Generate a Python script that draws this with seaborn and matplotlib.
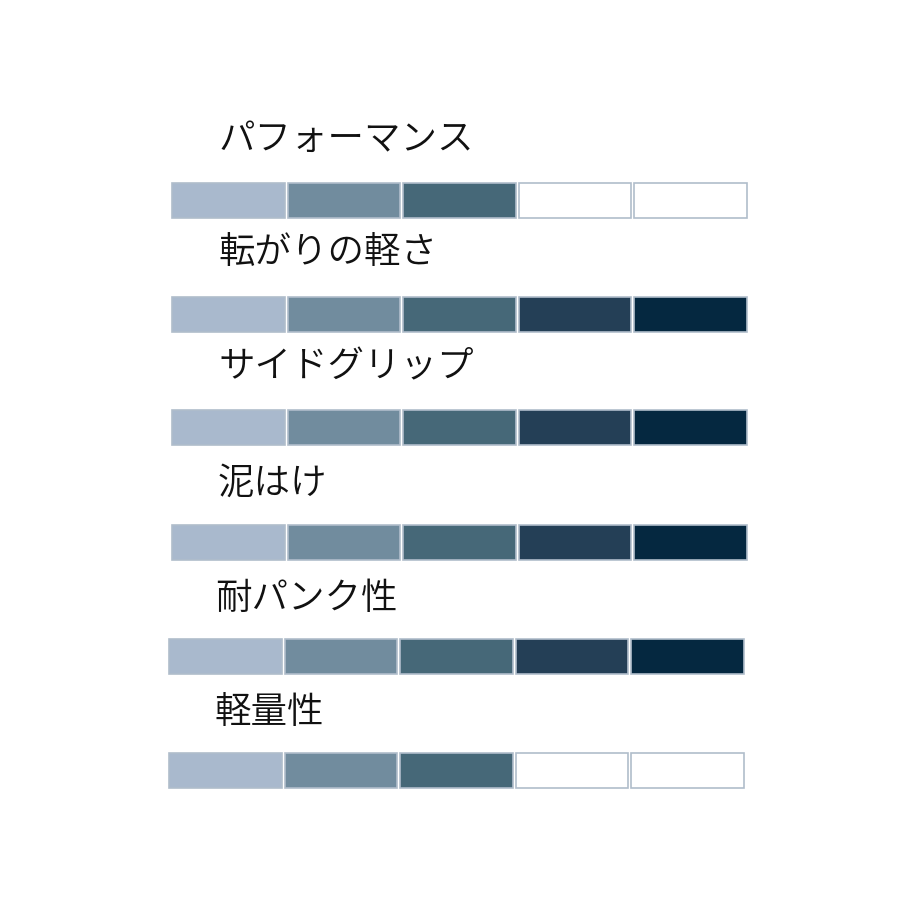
import matplotlib
matplotlib.use("Agg")
import matplotlib.pyplot as plt
import seaborn as sns
import pandas as pd

sns.set_theme(style="white")
plt.rcParams['font.family'] = ['Noto Sans CJK JP', 'DejaVu Sans']

# Data
categories = ["パフォーマンス", "転がりの軽さ", "サイドグリップ", "泥はけ", "耐パンク性", "軽量性"]
ratings = [3, 5, 5, 5, 5, 3]
max_rating = 5
level_colors = ["#a9b9cd", "#718c9e", "#466878", "#243f56", "#052840"]
empty_color = "#ffffff"
edge_color = "#b0bdcb"

W = H = 920
fig = plt.figure(figsize=(W / 100, H / 100), dpi=100)
fig.patch.set_facecolor("white")

# layout in pixels (top of bar, left of bar, label x, label center y)
bar_tops = [184, 298, 411, 526, 640, 754]
bar_lefts = [171, 171, 171, 171, 168, 168]
label_xs = [218, 218, 218, 218, 215, 215]
label_ys = [139, 253, 367, 483, 598, 713]
bar_w = 577
bar_h = 35

ax_text = fig.add_axes([0, 0, 1, 1])
ax_text.set_xlim(0, W)
ax_text.set_ylim(H, 0)
ax_text.axis("off")

for i, (cat, r) in enumerate(zip(categories, ratings)):
    left = bar_lefts[i] / W
    bottom = 1 - (bar_tops[i] + bar_h) / H
    ax = fig.add_axes([left, bottom, bar_w / W, bar_h / H])
    seg = [str(k) for k in range(max_rating)]
    df = pd.DataFrame({"seg": seg, "val": [1] * max_rating})
    pal = {str(k): (level_colors[k] if k < r else empty_color) for k in range(max_rating)}
    sns.barplot(data=df, x="seg", y="val", hue="seg", palette=pal, width=0.975,
                edgecolor=edge_color, linewidth=1.2, legend=False, ax=ax,
                saturation=1)
    for p in ax.patches:
        p.set_clip_on(False)
    ax.set_xlim(-0.5, max_rating - 0.5)
    ax.set_ylim(0, 1)
    ax.axis("off")
    ax_text.text(label_xs[i], label_ys[i], cat, fontsize=26.3, color="#111111",
                 fontweight=350, ha="left", va="center")

fig.savefig("out.png", dpi=100, facecolor="white")
